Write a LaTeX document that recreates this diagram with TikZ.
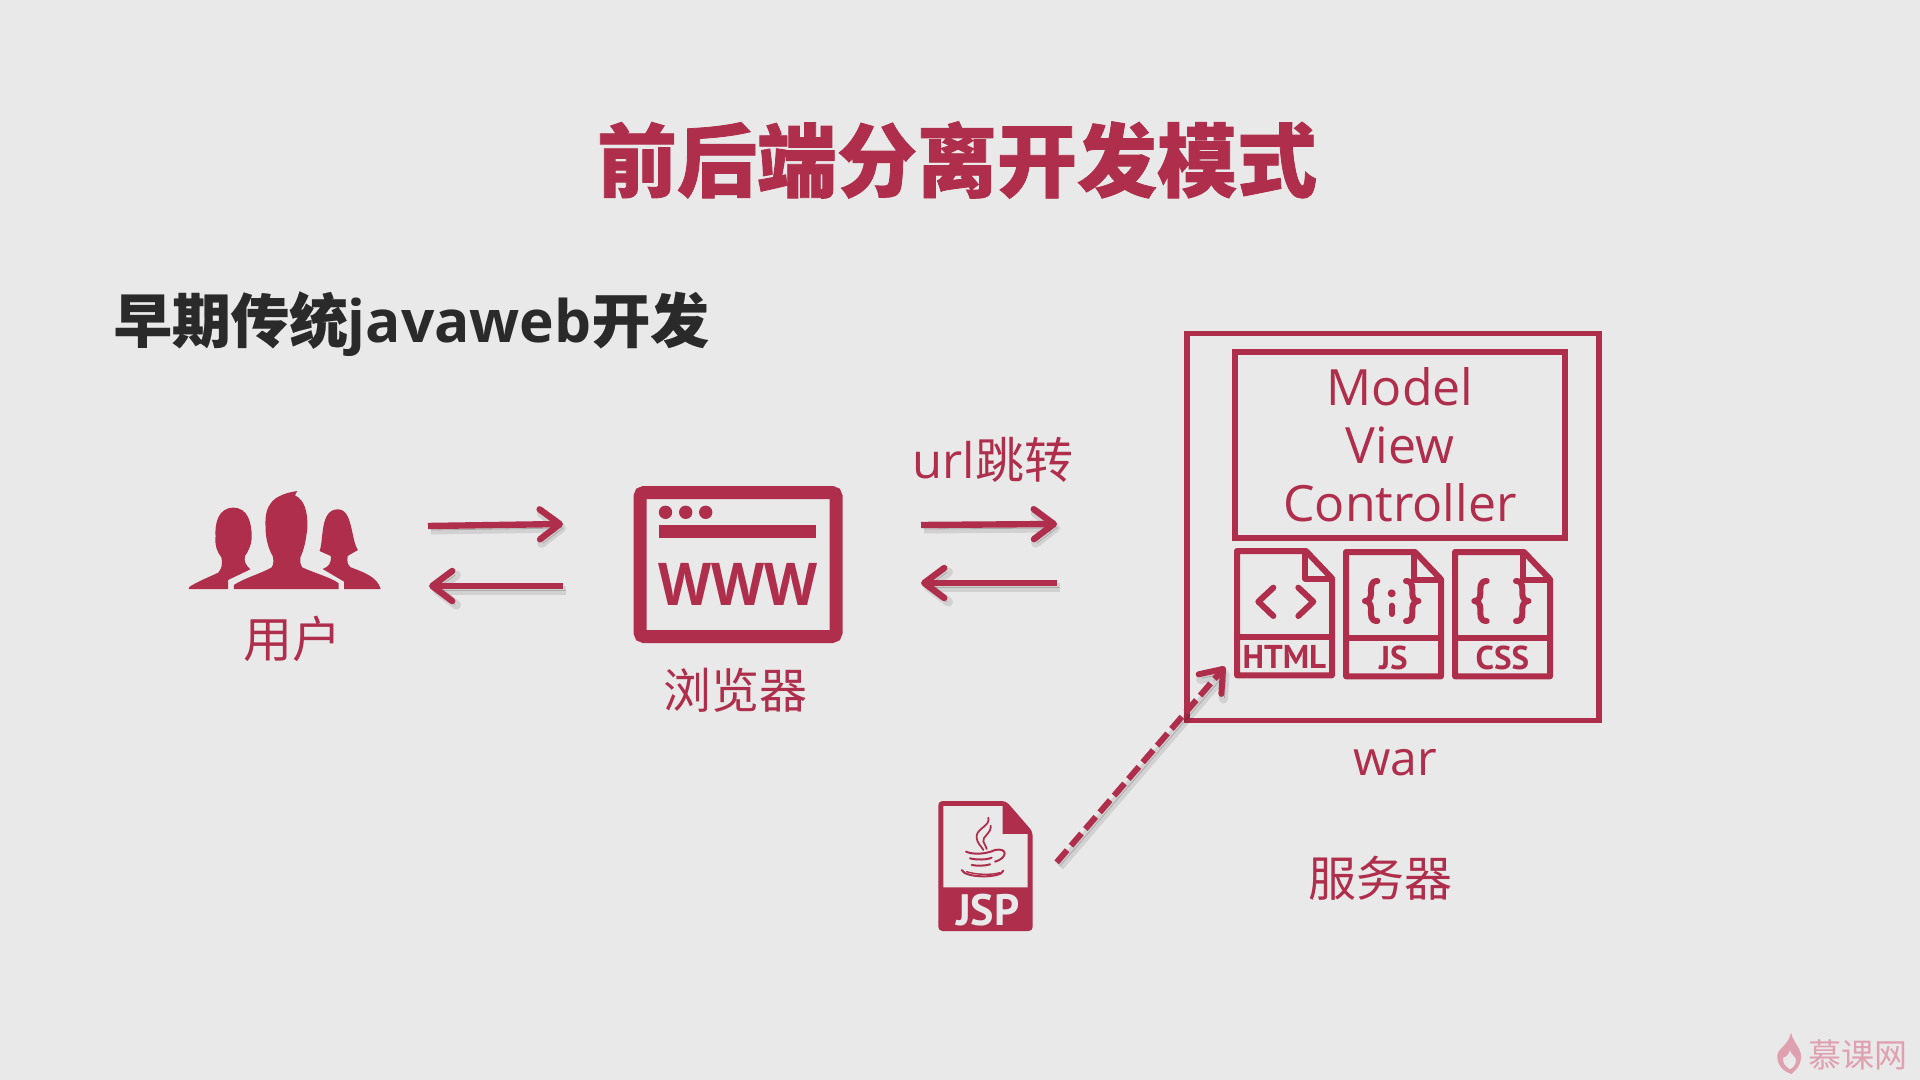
\documentclass[tikz,border=0pt]{standalone}
\usepackage{fontspec}
\usetikzlibrary{arrows.meta}
\setmainfont{Open Sans}
\newfontfamily\cjkfont{Noto Sans CJK SC}[BoldFeatures={FakeBold=1}]
\newfontfamily\subfont{Noto Sans CJK SC}[BoldFeatures={FakeBold=.4}]
\newfontfamily\iconfont{PT Sans}
\definecolor{bgray}{HTML}{E9E9E9}
\definecolor{wine}{HTML}{AF2E4C}
\definecolor{inkdark}{HTML}{2A2A2A}
\definecolor{wmark}{HTML}{DFA0B0}
\tikzset{
	lbl/.style={inner sep=0pt, text=wine, font=\cjkfont\fontsize{24}{28}\selectfont},
	boxline/.style={draw=wine, line width=2.8pt, inner sep=0pt},
	iconline/.style={draw=wine, line width=3pt, line join=round, line cap=round},
	flowarrow/.style={draw=wine, line width=3.2pt, -{Straight Barb[length=10pt,width=15pt,round]},
		preaction={draw=black, opacity=.10, line width=4.5pt, transform canvas={xshift=1.5pt,yshift=-2pt}},
		preaction={draw=black, opacity=.18, transform canvas={xshift=1.5pt,yshift=-2pt}}},
	docicon/.pic={
		\draw[iconline, fill=none] (0,0) -- (207,0) -- (285,82) -- (285,373) -- (0,373) -- cycle;
		\draw[iconline] (205,0) -- (205,83) -- (285,83);
		\draw[iconline] (0,258) -- (285,258);
		\node[inner sep=0pt, text=wine, font=\iconfont\bfseries\fontsize{16.5}{18}\selectfont] (-label) at (142,318) {#1};
	},
}
\begin{document}
\begin{tikzpicture}[x=.5pt, y=-.5pt]
	\useasboundingbox (0,0) rectangle (1920,1080);
	\fill[bgray] (0,0) rectangle (1920,1080);

	\node[inner sep=0pt, text=wine, font=\cjkfont\bfseries\fontsize{40}{44}\selectfont] (title) at (957,160) {前后端分离开发模式};
	\node[inner sep=0pt, anchor=west, text=inkdark, font=\subfont\bfseries\fontsize{29.3}{34}\selectfont] (subtitle) at (113,324) {早期传统{\rmfamily\bfseries javaweb}开发};

	% users
	\begin{scope}[shift={(170,470)}, xscale=.4464, yscale=1/3]
		\fill[wine] (42,357) -- (42,352) .. controls (60,335) and (90,320) .. (108,308) .. controls (116,295) and (118,285) .. (115,262) .. controls (105,245) and (100,225) .. (102,200) .. controls (100,160) and (108,113) .. (142,113) .. controls (175,113) and (183,160) .. (183,200) .. controls (183,225) and (175,245) .. (168,258) .. controls (165,275) and (170,285) .. (180,298) -- (130,330) -- (130,357) -- cycle;
		\fill[wine] (143,357) -- (143,345) .. controls (165,325) and (205,310) .. (228,292) .. controls (233,280) and (232,270) .. (230,258) .. controls (220,235) and (214,205) .. (214,170) .. controls (212,110) and (225,75) .. (285,63) -- (280,76) .. controls (302,90) and (308,125) .. (308,170) .. controls (305,210) and (300,240) .. (292,262) .. controls (290,272) and (292,282) .. (296,292) .. controls (325,310) and (360,322) .. (378,340) -- (378,357) -- cycle;
		\fill[wine] (390,357) -- (390,335) -- (342,297) .. controls (355,290) and (362,280) .. (360,258) -- (335,243) .. controls (345,210) and (335,118) .. (376,118) .. controls (410,118) and (405,210) .. (421,240) -- (398,258) .. controls (396,275) and (398,285) .. (405,292) .. controls (430,305) and (465,320) .. (472,357) -- cycle;
	\end{scope}
	\node[lbl, font=\cjkfont\fontsize{24.5}{28}\selectfont] (userlabel) at (292,639) {用户};

	\coordinate (userout) at (428,526);
	\coordinate (browserin) at (563,524);
	\coordinate (browserout) at (563,586);
	\coordinate (userin) at (429,586);
	\draw[flowarrow] (userout) -- (browserin);
	\draw[flowarrow] (browserout) -- (userin);

	% browser
	\node[draw=wine, line width=6.5pt, rounded corners=2pt, minimum width=98pt, minimum height=72pt, inner sep=0pt] (browser) at (738,564.5) {};
	\fill[wine] (659,525) rectangle (816,538);
	\fill[wine] (665.5,512.3) circle (6.7) (685.7,512.3) circle (6.7) (705.7,512.3) circle (6.7);
	\node[inner sep=0pt, text=wine, font=\rmfamily\bfseries\fontsize{29.5}{34}\selectfont] (wwwtext) at (738,584) {\scalebox{.93}[1]{WWW}};
	\node[lbl] (browserlabel) at (735,690) {浏览器};

	\node[lbl, font=\cjkfont\fontsize{24.5}{28}\selectfont] (urllabel) at (993,460) {{\rmfamily url}跳转};
	\coordinate (browserright) at (921,525);
	\coordinate (warin) at (1057,524);
	\coordinate (warout) at (1057,583);
	\coordinate (browserback) at (921,583);
	\draw[flowarrow] (browserright) -- (warin);
	\draw[flowarrow] (warout) -- (browserback);

	% server
	\node[boxline, minimum width=206pt, minimum height=193.5pt] (warbox) at (1393,527) {};
	\node[boxline, minimum width=165pt, minimum height=93pt, align=center, text=wine, font=\rmfamily\fontsize{25}{29}\selectfont] (mvcbox) at (1400,445) {Model\\View\\Controller};
	\pic[scale=1/3] at (1237,551) {docicon=HTML};
	\pic[scale=1/3] at (1346,552) {docicon=JS};
	\pic[scale=1/3] at (1455,552) {docicon=CSS};

	% file glyphs
	\begin{scope}[shift={(1170,520)}, scale=1/3]
		\draw[iconline] (310,203) -- (265,245) -- (310,288);
		\draw[iconline] (385,203) -- (430,245) -- (385,288);
		\draw[iconline] (622,183) .. controls (600,183) and (603,205) .. (603,222) .. controls (603,235) and (595,243) .. (585,243) .. controls (595,243) and (603,252) .. (603,265) .. controls (603,285) and (600,303) .. (622,303);
		\draw[iconline] (708,183) .. controls (730,183) and (727,205) .. (727,222) .. controls (727,235) and (735,243) .. (745,243) .. controls (735,243) and (727,252) .. (727,265) .. controls (727,285) and (730,303) .. (708,303);
		\fill[wine] (665,220) circle (12);
		\draw[iconline] (665,257) -- (665,282);
		\draw[iconline] (950,183) .. controls (928,183) and (931,205) .. (931,222) .. controls (931,235) and (923,243) .. (913,243) .. controls (923,243) and (931,252) .. (931,265) .. controls (931,285) and (928,303) .. (950,303);
		\draw[iconline] (1038,183) .. controls (1060,183) and (1057,205) .. (1057,222) .. controls (1057,235) and (1065,243) .. (1075,243) .. controls (1065,243) and (1057,252) .. (1057,265) .. controls (1057,285) and (1060,303) .. (1038,303);
	\end{scope}

	\node[lbl, font=\rmfamily\fontsize{24}{28}\selectfont] (warlabel) at (1395,763) {war};
	\node[lbl] (serverlabel) at (1380,878) {服务器};

	% jsp file
	\begin{scope}[shift={(920,650)}, scale=1/3]
		\fill[wine, rounded corners=2pt] (55,453) -- (258,453) -- (338,545) -- (338,843) -- (55,843) -- cycle;
		\fill[bgray] (70,468) -- (248,468) -- (248,552) -- (323,552) -- (323,712) -- (70,712) -- cycle;
		\draw[wine, line width=.9pt, line cap=round] (205,503) .. controls (212,530) and (165,535) .. (170,565) .. controls (172,580) and (185,590) .. (190,600);
		\draw[wine, line width=.9pt, line cap=round] (212,527) .. controls (215,550) and (185,560) .. (190,575) .. controls (193,585) and (200,590) .. (200,597);
		\draw[wine, line width=1pt, line cap=round] (138,605) .. controls (160,615) and (200,612) .. (225,600) .. controls (265,592) and (262,625) .. (225,635);
		\draw[wine, line width=1pt, line cap=round] (150,625) .. controls (170,630) and (200,630) .. (215,623);
		\draw[wine, line width=1pt, line cap=round] (155,645) .. controls (170,648) and (195,648) .. (210,643);
		\draw[wine, line width=1pt, line cap=round] (125,660) .. controls (135,685) and (245,685) .. (250,662);
		\draw[wine, line width=.7pt, line cap=round] (140,665) .. controls (170,675) and (215,675) .. (240,668);
		\coordinate (jspright) at (410,637);
		\coordinate (htmlcorner) at (915,50);
		\node[inner sep=0pt, text=bgray, font=\iconfont\bfseries\fontsize{22}{24}\selectfont] (jsptext) at (203,780) {JSP};
	\end{scope}
	\draw[flowarrow, line width=3pt, dash pattern=on 8pt off 3pt] (jspright) -- (htmlcorner);

	% logo
	\begin{scope}[shift={(1760,1010)}, scale=1/3]
		\fill[wmark, even odd rule] (93,68) .. controls (100,100) and (130,120) .. (122,150) .. controls (118,175) and (100,185) .. (95,192) .. controls (70,185) and (50,165) .. (52,135) .. controls (55,115) and (85,105) .. (93,68) -- cycle (90,120) .. controls (92,135) and (112,140) .. (108,155) .. controls (105,170) and (95,175) .. (90,178) .. controls (75,170) and (65,155) .. (70,140) .. controls (75,145) and (85,135) .. (90,120) -- cycle;
	\end{scope}
	\node[inner sep=0pt, text=wmark, font=\cjkfont\fontsize{16.5}{20}\selectfont] (logotext) at (1858,1055) {慕课网};
\end{tikzpicture}
\end{document}
